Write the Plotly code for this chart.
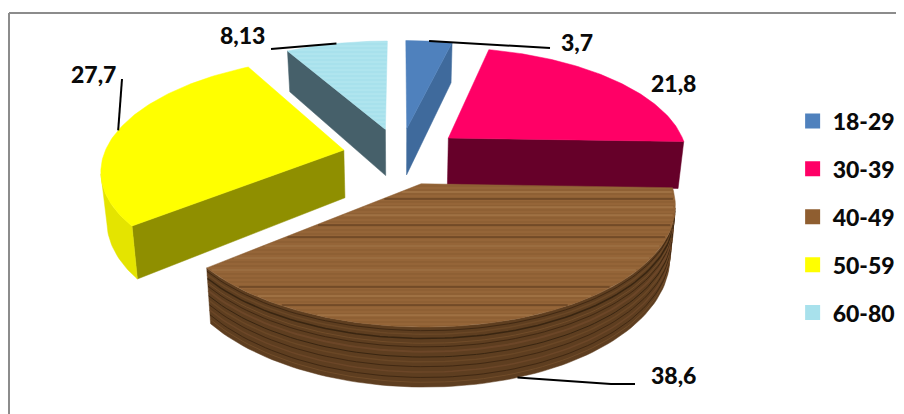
import numpy as np
import plotly.graph_objects as go

# ---- data
categories = ["18-29", "30-39", "40-49", "50-59", "60-80"]
values = [3.7, 21.8, 38.6, 27.7, 8.13]
value_labels = ["3,7", "21,8", "38,6", "27,7", "8,13"]
explosions = [0.25, 0.26, 0.265, 0.24, 0.25]

# ---- styles
top_colors = ["#4F81BD", "#FF0066", "#8E6034", "#FFFF00", "#A8E1EC"]
radial_colors = ["#3F6A9C", "#660029", "#6E4A28", "#8F8F00", "#46606A"]
arc_colors = ["#3F6A9C", "#660029", "#5E3E20", "#E4E400", "#46606A"]
legend_colors = ["#4F81BD", "#FF0066", "#8F5E30", "#FFFF00", "#A8E1EC"]
draw_order = [4, 0, 1, 3, 2]

# ---- projection of the pie (page pixels)
CX, CY, RX, RY, PERSP, HEIGHT, TAPER = 400, 155, 240, 110, 0.16, 48, 0.02
# the page body has an 8 px margin, so the plot area starts at page pixel 8
BODY = 8


def project(x, y, z=0.0):
    x, y = np.asarray(x, float), np.asarray(y, float)
    p = 1 / (1 + PERSP * y)
    sx = CX + RX * x * p * (1 - TAPER * z)
    sy = CY - RY * y * p + HEIGHT * p * z
    return sx, sy


total = sum(values)
edges = np.concatenate([[0], np.cumsum(values)]) / total * 2 * np.pi
eye = np.array([0.0, -1 / PERSP])

fig = go.Figure()


def poly(sx, sy, color, pattern=None):
    fig.add_trace(go.Scatter(
        x=list(sx), y=list(sy), mode="lines", fill="toself", fillcolor=color,
        line=dict(width=0.5, color=color), hoverinfo="skip", showlegend=False,
        fillpattern=pattern))


def strokes(segs, color, width, opacity=1.0):
    xs, ys = [], []
    for a, b in segs:
        xs += list(a) + [None]
        ys += list(b) + [None]
    fig.add_trace(go.Scatter(x=xs, y=ys, mode="lines", hoverinfo="skip", showlegend=False,
                             opacity=opacity, line=dict(color=color, width=width)))


anchors = {}
for i in draw_order:
    a0, a1 = edges[i], edges[i + 1]
    mid = (a0 + a1) / 2
    ox, oy = explosions[i] * np.sin(mid), explosions[i] * np.cos(mid)
    th = np.linspace(a0, a1, 90)
    ax, ay = ox + np.sin(th), oy + np.cos(th)
    # the leader starts on the rim that faces the viewer: lower rim when the slice points forward
    anchors[i] = project(ox + np.sin(mid), oy + np.cos(mid), 1 if np.cos(mid) < 0 else 0)

    # radial walls
    for ang, nrm in ((a0, a0 - np.pi / 2), (a1, a1 + np.pi / 2)):
        n = np.array([np.sin(nrm), np.cos(nrm)])
        if n @ (eye - np.array([ox, oy])) > 0.15:
            ex, ey = ox + np.sin(ang), oy + np.cos(ang)
            t = project([ox, ex], [oy, ey])
            b = project([ex, ox], [ey, oy], 1)
            poly(np.r_[t[0], b[0], t[0][0]], np.r_[t[1], b[1], t[1][0]], radial_colors[i])

    # outer curved wall
    vis = (np.sin(th) * (eye[0] - ax) + np.cos(th) * (eye[1] - ay)) > 0
    if vis.sum() > 1:
        tx, ty = project(ax[vis], ay[vis])
        bx, by = project(ax[vis][::-1], ay[vis][::-1], 1)
        poly(np.r_[tx, bx, tx[0]], np.r_[ty, by, ty[0]], arc_colors[i])
        if i == 2:  # wood strata on the wall
            for f, c, w in [(0.06, "#3A2410", 1), (0.12, "#6E4A28", 1.5), (0.19, "#30200E", 1.5),
                            (0.27, "#76502C", 1), (0.33, "#3A2410", 1), (0.41, "#70492A", 2),
                            (0.50, "#30200E", 1), (0.58, "#6E4A28", 1.5), (0.66, "#3A2410", 1),
                            (0.75, "#70492A", 1.5), (0.84, "#3A2410", 1), (0.92, "#76502C", 1)]:
                sx, sy = project(ax[vis], ay[vis], f)
                strokes([(sx, sy)], c, w, 0.8)

    # top face
    tx, ty = project(np.r_[ox, ax, ox], np.r_[oy, ay, oy])
    pattern = None
    if i == 2:
        pattern = dict(shape="-", bgcolor="#956538", fgcolor="#7F5229", size=4, solidity=0.3)
    if i == 4:
        pattern = dict(shape="-", bgcolor="#A8E1EC", fgcolor="#C0ECF2", size=4, solidity=0.3)
    poly(tx, ty, top_colors[i], pattern)

    if i == 2:  # long grain streaks on the wood top
        segs = {"dark": [], "light": []}
        for yy, c in [(192, 1), (199, 0), (207, 1), (215, 1), (225, 0), (237, 0), (246, 1), (258, 1),
                      (270, 1), (287, 0), (296, 1), (305, 0), (315, 1)]:
            xs = []
            for k in range(len(tx) - 1):
                y0, y1 = ty[k], ty[k + 1]
                if (y0 - yy) * (y1 - yy) < 0:
                    xs.append(tx[k] + (yy - y0) / (y1 - y0) * (tx[k + 1] - tx[k]))
            if len(xs) >= 2:
                segs["dark" if c == 0 else "light"].append(([min(xs) + 2, max(xs) - 2], [yy, yy]))
        strokes(segs["dark"], "#4A2D14", 1.2, 0.8)
        strokes(segs["light"], "#B88D5E", 1.2, 0.6)

# ---- leader lines and value labels
label_pos = [(577, 42), (673, 83), (673, 375), (93, 74), (242, 35)]
leader_ends = [[(550, 48)], None, [(611, 384), (635, 384)], [(122, 79)], [(271, 49)]]
for i, ends in enumerate(leader_ends):
    if ends:
        xs = [float(anchors[i][0])] + [e[0] for e in ends]
        ys = [float(anchors[i][1])] + [e[1] for e in ends]
        fig.add_trace(go.Scatter(x=xs, y=ys, mode="lines", hoverinfo="skip", showlegend=False,
                                 line=dict(color="black", width=2)))

annotations = [dict(x=p[0], y=p[1], xref="x", yref="y", text=t, showarrow=False,
                    font=dict(family="Lato", size=23, color="#0A0A0A", weight=900))
               for p, t in zip(label_pos, value_labels)]

# ---- legend
for i, c in enumerate(categories):
    fig.add_trace(go.Scatter(x=[None], y=[None], mode="markers", name=c, legendgroup=c,
                             marker=dict(symbol="square", size=15, color=legend_colors[i])))

fig.update_layout(
    width=904 - BODY, height=414 - BODY, margin=dict(l=0, r=0, t=0, b=0),
    paper_bgcolor="white", plot_bgcolor="white",
    xaxis=dict(range=[BODY, 904], visible=False, fixedrange=True),
    yaxis=dict(range=[414, BODY], visible=False, fixedrange=True),
    annotations=annotations,
    shapes=[dict(type="line", xref="x", yref="y", x0=9, y0=13, x1=904, y1=13,
                 line=dict(color="#8C8C8C", width=2)),
            dict(type="line", xref="x", yref="y", x0=9, y0=13, x1=9, y1=414,
                 line=dict(color="#8C8C8C", width=2))],
    legend=dict(x=0.8757, y=0.7746, xanchor="left", yanchor="top", bgcolor="rgba(0,0,0,0)",
                tracegroupgap=15, itemwidth=30, traceorder="grouped",
                font=dict(family="Lato", size=23, color="#0A0A0A", weight=900)),
)

fig.write_html("out.html")
